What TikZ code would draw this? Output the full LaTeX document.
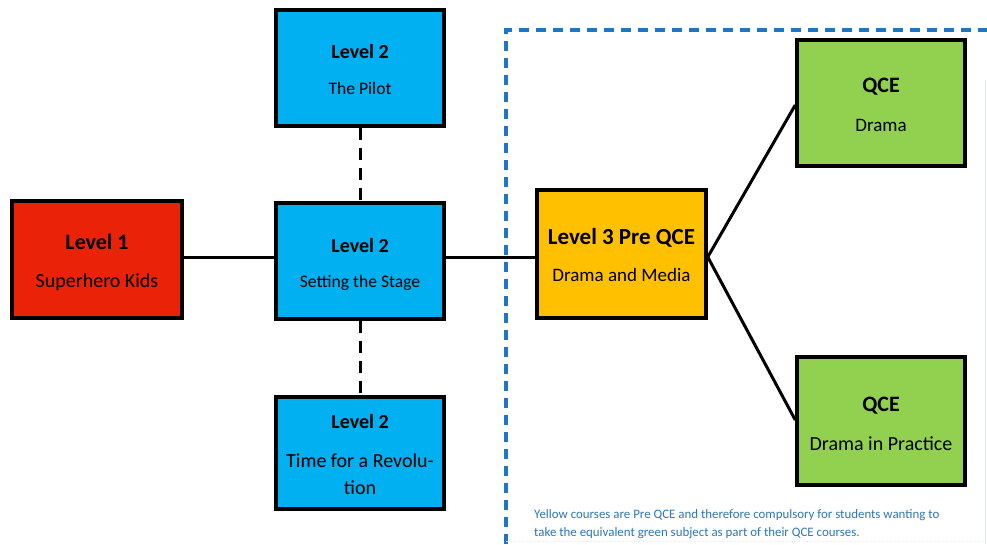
\documentclass[tikz,border=0pt]{standalone}
\usepackage{fontspec}
\setmainfont{Carlito}
\definecolor{lvred}{RGB}{234,34,8}
\definecolor{lvblue}{RGB}{0,176,240}
\definecolor{lvyellow}{RGB}{255,192,0}
\definecolor{lvgreen}{RGB}{146,208,80}
\definecolor{framebl}{RGB}{30,118,196}
\definecolor{notebl}{RGB}{46,117,182}
\newcommand{\fs}[1]{\fontsize{#1}{#1}\selectfont}
\begin{document}
\begin{tikzpicture}[x=1pt,y=-1pt,
  box/.style={draw=black, line width=3.5pt, inner sep=0pt},
  txt/.style={anchor=base, inner sep=0pt},
  conn/.style={draw=black, line width=3pt},
  dconn/.style={draw=black, line width=3pt, dash pattern=on 12pt off 8pt},
  frame/.style={draw=framebl, line width=3.5pt, dash pattern=on 10pt off 7pt}]
\useasboundingbox (0,0) rectangle (987,544);
% frame
\draw[frame] (506,544) -- (506,30) -- (987,30);
\draw[framebl!15, line width=1pt] (985,80) -- (985,544);
\draw[framebl!12, line width=1pt, dash pattern=on 2pt off 2pt] (506,541) -- (985,541);
% boxes
\node[box, fill=lvred, minimum width=170, minimum height=117] (l1) at (97,259.5) {};
\node[box, fill=lvblue, minimum width=168, minimum height=116] (stage) at (360,261) {};
\node[box, fill=lvblue, minimum width=168, minimum height=116] (pilot) at (360,68) {};
\node[box, fill=lvblue, minimum width=168, minimum height=112] (rev) at (360,453) {};
\node[box, fill=lvyellow, minimum width=169, minimum height=128] (pre) at (621.5,254) {};
\node[box, fill=lvgreen, minimum width=168, minimum height=126] (qa) at (881,103) {};
\node[box, fill=lvgreen, minimum width=168, minimum height=128] (qb) at (881,421) {};
% texts
\node[txt] (l1t) at (97,249.3) {\fs{22}\bfseries Level 1};
\node[txt] (l1s) at (97,287.7) {\fs{20}Superhero Kids};
\node[txt] (stt) at (360,252) {\fs{20}\bfseries Level 2};
\node[txt] (sts) at (360,287) {\fs{17.6}Setting the Stage};
\node[txt] (pit) at (360,58.3) {\fs{20}\bfseries Level 2};
\node[txt] (pis) at (360,94) {\fs{17.6}The Pilot};
\node[txt] (revt) at (360,428.3) {\fs{20}\bfseries Level 2};
\node[txt] (revs) at (360,467.3) {\fs{20}Time for a Revolu-};
\node[txt] (revs2) at (360,494.3) {\fs{20}tion};
\node[txt] (pret) at (621.5,244) {\fs{23}\bfseries Level 3 Pre QCE};
\node[txt] (pres) at (621.5,281.7) {\fs{19}Drama and Media};
\node[txt] (qat) at (881,92.7) {\fs{22}\bfseries QCE};
\node[txt] (qas) at (881,131.7) {\fs{19}Drama};
\node[txt] (qbt) at (881,411) {\fs{22}\bfseries QCE};
\node[txt] (qbs) at (881,450) {\fs{20}Drama in Practice};
\node[anchor=base west, inner sep=0pt, text=notebl] (note1) at (534,518.3) {\fs{12.9}Yellow courses are Pre QCE and therefore compulsory for students wanting to};
\node[anchor=base west, inner sep=0pt, text=notebl] (note2) at (534,536.7) {\fs{12.9}take the equivalent green subject as part of their QCE courses.};
% connectors
\draw[conn] (l1.east |- 0,257) -- (stage.west |- 0,257);
\draw[conn] (stage.east |- 0,257) -- (pre.west |- 0,257);
\draw[dconn] (pilot.south) -- (stage.north);
\draw[dconn] (stage.south) -- (rev.north);
\draw[conn] (pre.east |- 0,257) -- (qa.west |- 0,105);
\draw[conn] (pre.east |- 0,257) -- (qb.west |- 0,420);
\end{tikzpicture}
\end{document}
